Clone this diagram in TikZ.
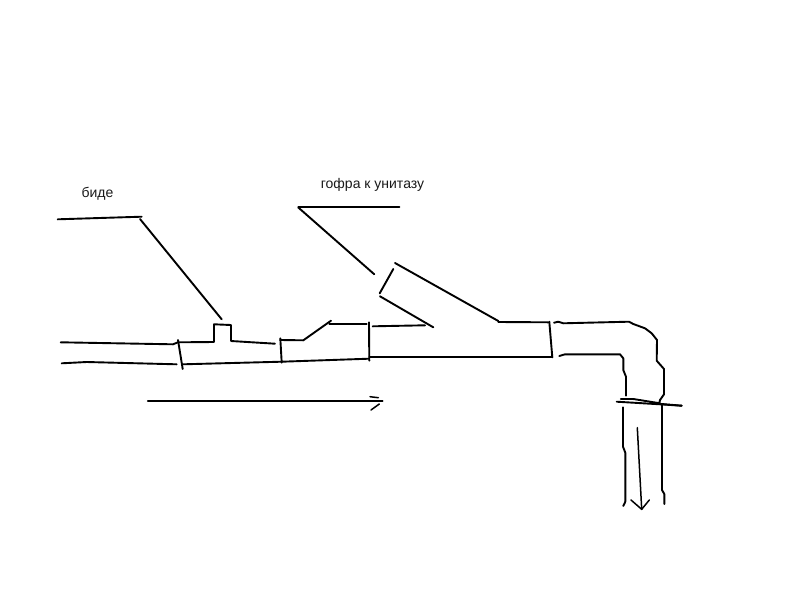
\documentclass[tikz,border=0pt]{standalone}
\usepackage{fontspec}
\setmainfont{Liberation Sans}
\tikzset{
  ink/.style={draw=black,line width=1.9pt,line cap=round,line join=round},
  thin ink/.style={draw=black,line width=1.5pt,line cap=round,line join=round},
  label text/.style={font=\fontsize{14}{16}\selectfont,text=black!90,inner sep=0pt,anchor=base}
}
\begin{document}
\begin{tikzpicture}[x=1pt,y=-1pt]
\useasboundingbox[fill=white] (0,0) rectangle (800,600);
% labels
\node[label text] (bide) at (97.5,197) {биде};
\node[label text] (gofra) at (372.5,188) {гофра к унитазу};
% leaders
\draw[ink] (57.7,219.3) -- (141.7,216.7);
\draw[ink] (140,219) -- (221.7,319.3);
\draw[ink] (298.3,206.7) -- (399.3,206.7);
\draw[ink] (298.3,207.5) -- (374.3,274.3);
% left pipe
\draw[ink] (60.7,342.3) -- (173,344.3) -- (178,342.3) -- (214,342) -- (214,324.3) -- (231,325) -- (231,341) -- (275,343.7);
\draw[ink] (61.7,363.3) -- (86.7,362) -- (176.7,364.3);
\draw[ink] (178,340) -- (182.7,369);
\draw[ink] (182.7,364.3) -- (281.7,361.7) -- (369,358.7);
% second section
\draw[ink] (280.3,338.3) -- (281.7,362.7);
\draw[ink] (280.3,340) -- (303.3,340.3) -- (331,320.7);
\draw[ink] (329.3,324.3) -- (366.7,324.3);
\draw[ink] (369,322.3) -- (369.3,360.7);
% tee
\draw[ink] (372.7,326.3) -- (425,325.3);
\draw[ink] (380,296.3) -- (433.3,327.3);
\draw[ink] (393.3,269) -- (379.7,293.3);
\draw[ink] (395,263) -- (498.3,321);
\draw[ink] (498.3,322) -- (548.3,322.3);
\draw[ink] (549.3,321.7) -- (552.3,357.3);
\draw[ink] (369.3,357.3) -- (552.3,357.3);
% elbow
\draw[ink] (554,322.7) -- (558.3,321.7) -- (563.3,323.3) -- (575,323) -- (629,321.7) -- (633.3,324) -- (645,328.3) -- (651.7,333.3) -- (657,340) -- (656.7,360.7) -- (664,369) -- (664,394.3) -- (660,400) -- (659.3,403);
\draw[ink] (559.3,356) -- (565,354.3) -- (620,354.3) -- (623.3,358.3) -- (623.3,370) -- (626,376.7) -- (626,395.7);
% flange
\draw[ink] (620.7,399) -- (633.3,399) -- (660,403.3);
\draw[ink] (616.7,401.7) -- (660,404.3) -- (681.7,405.7);
\draw[ink] (650,403) -- (681.7,405.7);
% down pipe
\draw[ink] (623,407.3) -- (623,446.7) -- (625.3,452.7) -- (625.3,501.7) -- (623.3,506);
\draw[ink] (662,405) -- (662,490) -- (664.3,494) -- (664.3,504);
% down arrow
\draw[thin ink] (637.3,427.7) -- (641.7,509.3);
\draw[thin ink] (631,500) -- (641.7,509.3) -- (649.3,500);
% flow arrow
\draw[thin ink] (147.7,401) -- (382.7,401);
\draw[thin ink] (370,396.7) -- (378.3,397.7);
\draw[thin ink] (371,410) -- (379.3,404);
\end{tikzpicture}
\end{document}
